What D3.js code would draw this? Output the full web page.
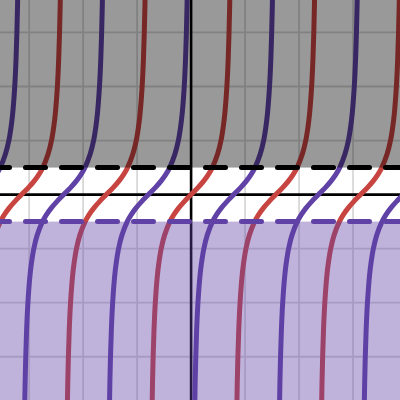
<html>

<head>
  <title>tan curves with shaded bands</title>
  <style>
    body {
      margin: 0;
      background: white;
    }

    svg {
      display: block;
    }
  </style>
</head>

<body>
  <svg id="Graph"></svg>

  <script src="https://cdn.jsdelivr.net/npm/d3@7"></script>
  <script>
    // visible window (graph units)
    var xDomain = [-3.54, 3.87];
    var yDomain = [-3.8, 3.6];

    // grid lines, every unit
    var gridX = [-3, -2, -1, 1, 2, 3];
    var gridY = [-3, -2, -1, 1, 2, 3];

    // centres of each branch (where the branch crosses y = 0)
    var redCenters = [-3.14, -1.57, 0, 1.57, 3.14];
    var purpleCenters = [-3.93, -2.36, -0.79, 0.79, 2.36, 3.93];

    // shape of one branch: y and offset from the centre
    var profileY = [-4.5, -4, -3.5, -3, -2.5, -2, -1.5, -1.25, -1, -0.75, -0.5, -0.375, -0.25, -0.125,
      0, 0.125, 0.25, 0.375, 0.5, 0.75, 1, 1.25, 1.5, 2, 2.5, 3, 3.5, 4, 4.5];
    var profileDx = [-0.730, -0.723, -0.715, -0.703, -0.687, -0.663, -0.625, -0.595, -0.554, -0.491, -0.393, -0.322, -0.232, -0.123,
      0, 0.123, 0.232, 0.322, 0.393, 0.491, 0.554, 0.595, 0.625, 0.663, 0.687, 0.703, 0.715, 0.723, 0.730];

    // band limits: y > 0.5 shaded grey, y < -0.5 shaded purple
    var upperBound = 0.5;
    var lowerBound = -0.5;

    var width = 400;
    var height = 400;
    var red = "#c74440";
    var purple = "#6042a6";

    var svg = d3.select("#Graph")
      .attr("width", width)
      .attr("height", height);

    var x = d3.scaleLinear().domain(xDomain).range([0, width]);
    var y = d3.scaleLinear().domain(yDomain).range([height, 0]);

    svg.append("rect")
      .attr("width", width)
      .attr("height", height)
      .attr("fill", "white");

    // 网格
    var grid = svg.append("g").attr("stroke", "#d8d8d8").attr("stroke-width", 1.8);
    grid.selectAll(".gx")
      .data(gridX)
      .join("line")
      .attr("class", "gx")
      .attr("x1", d => x(d)).attr("x2", d => x(d))
      .attr("y1", 0).attr("y2", height);
    grid.selectAll(".gy")
      .data(gridY)
      .join("line")
      .attr("class", "gy")
      .attr("y1", d => y(d)).attr("y2", d => y(d))
      .attr("x1", 0).attr("x2", width);

    // 坐标轴
    var axes = svg.append("g").attr("stroke", "black").attr("stroke-width", 2.6);
    axes.append("line")
      .attr("x1", x(0)).attr("x2", x(0))
      .attr("y1", 0).attr("y2", height);
    axes.append("line")
      .attr("y1", y(0)).attr("y2", y(0))
      .attr("x1", 0).attr("x2", width);

    // branches
    var branch = d3.line()
      .x(d => x(d[0]))
      .y(d => y(d[1]))
      .curve(d3.curveCatmullRom.alpha(0.5));

    function branchPoints(c) {
      return profileY.map(function (v, i) {
        return [c + profileDx[i], v];
      });
    }

    var curves = svg.append("g")
      .attr("fill", "none")
      .attr("stroke-width", 5)
      .attr("stroke-linecap", "round");

    curves.selectAll(".red")
      .data(redCenters)
      .join("path")
      .attr("class", "red")
      .attr("stroke", red)
      .attr("d", d => branch(branchPoints(d)));

    curves.selectAll(".purple")
      .data(purpleCenters)
      .join("path")
      .attr("class", "purple")
      .attr("stroke", purple)
      .attr("d", d => branch(branchPoints(d)));

    // shaded regions on top of the curves
    svg.append("rect")
      .attr("x", 0)
      .attr("y", y(yDomain[1]))
      .attr("width", width)
      .attr("height", y(upperBound) - y(yDomain[1]))
      .attr("fill", "black")
      .attr("fill-opacity", 0.4);

    svg.append("rect")
      .attr("x", 0)
      .attr("y", y(lowerBound))
      .attr("width", width)
      .attr("height", y(yDomain[0]) - y(lowerBound))
      .attr("fill", purple)
      .attr("fill-opacity", 0.4);

    // dashed borders
    var bounds = [
      { v: upperBound, color: "black" },
      { v: lowerBound, color: purple }
    ];
    svg.append("g")
      .selectAll("line")
      .data(bounds)
      .join("line")
      .attr("x1", x(xDomain[0])).attr("x2", x(xDomain[1]))
      .attr("y1", d => y(d.v)).attr("y2", d => y(d.v))
      .attr("stroke", d => d.color)
      .attr("stroke-width", 5)
      .attr("stroke-linecap", "round")
      .attr("stroke-dasharray", "20 16")
      .attr("stroke-dashoffset", 10.5);
  </script>
</body>

</html>
